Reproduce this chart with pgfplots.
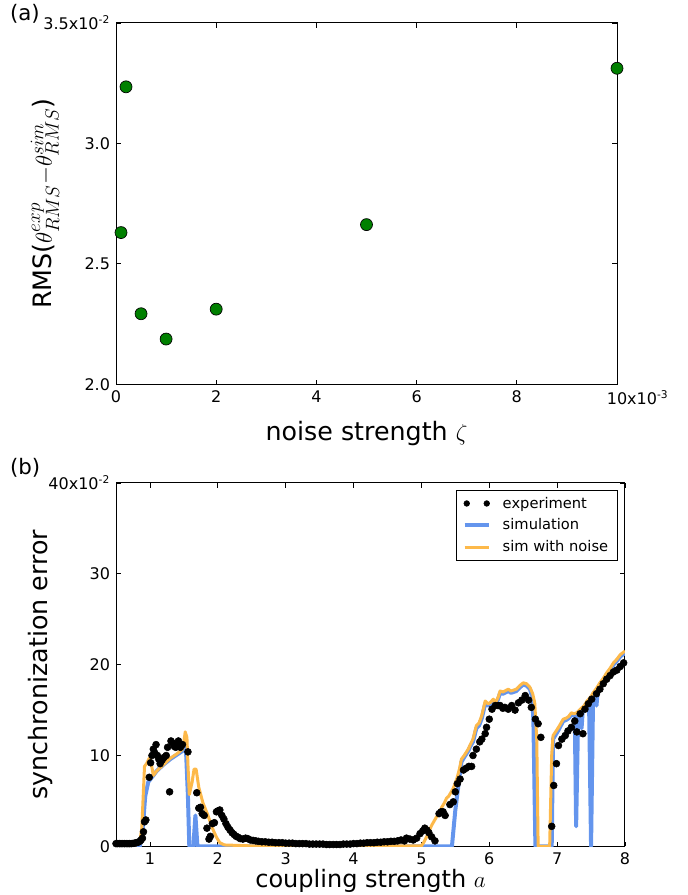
\documentclass[border=0pt]{standalone}
\usepackage{pgfplots}
\pgfplotsset{compat=1.18}
\usepackage{fontspec}
\setmainfont{DejaVu Sans}
\definecolor{simblue}{HTML}{6495ED}
\definecolor{noiseorange}{HTML}{FDB94A}
\definecolor{mgreen}{HTML}{008000}

\pgfplotstableread{
a v
0.500 0.30
0.525 0.30
0.550 0.30
0.575 0.30
0.600 0.30
0.625 0.30
0.650 0.30
0.675 0.30
0.700 0.30
0.725 0.30
0.750 0.32
0.775 0.35
0.800 0.40
0.825 0.45
0.850 0.55
0.870 0.70
0.890 0.90
0.905 1.60
0.920 2.70
0.940 2.90
0.990 7.60
1.010 9.20
1.030 10.0
1.050 10.7
1.070 10.3
1.090 11.2
1.110 10.0
1.130 9.6
1.150 9.1
1.180 9.5
1.210 9.8
1.240 10.0
1.260 10.9
1.290 6.0
1.310 11.6
1.330 11.4
1.360 11.0
1.380 10.9
1.400 11.3
1.420 11.6
1.450 10.9
1.480 11.2
1.560 10.4
1.690 5.9
1.720 4.2
1.745 4.3
1.770 3.6
1.800 3.4
1.840 2.0
1.870 0.8
1.890 1.1
1.920 2.5
1.950 2.6
1.980 3.8
2.000 3.9
2.030 4.0
2.060 3.4
2.090 3.0
2.120 2.5
2.150 2.1
2.180 1.8
2.210 1.5
2.240 1.3
2.270 1.1
2.300 1.0
2.330 0.85
2.370 0.8
2.410 0.9
2.440 0.85
2.480 0.7
2.520 0.65
2.560 0.6
2.600 0.55
2.650 0.5
2.700 0.5
2.750 0.45
2.800 0.45
2.850 0.4
2.900 0.4
2.950 0.4
3.000 0.35
3.050 0.35
3.100 0.35
3.150 0.3
3.200 0.3
3.250 0.3
3.300 0.3
3.350 0.25
3.400 0.25
3.450 0.25
3.500 0.25
3.550 0.25
3.600 0.2
3.650 0.2
3.700 0.2
3.750 0.2
3.800 0.2
3.850 0.25
3.900 0.25
3.950 0.25
4.000 0.3
4.050 0.3
4.100 0.35
4.150 0.35
4.200 0.4
4.250 0.4
4.300 0.4
4.350 0.45
4.400 0.45
4.450 0.5
4.500 0.5
4.550 0.55
4.600 0.55
4.650 0.6
4.700 0.7
4.750 0.6
4.780 0.9
4.830 0.8
4.880 0.7
4.930 0.9
4.980 1.4
5.020 1.7
5.050 2.0
5.080 1.8
5.110 1.5
5.150 1.05
5.200 0.6
5.260 3.6
5.290 3.8
5.320 3.8
5.350 3.4
5.420 4.6
5.470 4.9
5.500 6.0
5.530 6.9
5.570 7.4
5.620 8.4
5.660 8.6
5.700 8.8
5.740 8.8
5.760 10.0
5.810 10.7
5.860 11.5
5.890 11.8
5.940 12.4
5.960 13.1
6.000 14.0
6.040 15.1
6.090 15.5
6.130 15.5
6.160 15.5
6.200 15.2
6.230 15.3
6.280 15.1
6.330 15.5
6.380 15.0
6.430 15.8
6.480 16.1
6.530 16.6
6.580 16.1
6.620 15.3
6.680 14.0
6.720 13.5
6.760 12.0
6.920 2.2
6.950 6.7
6.990 9.1
7.020 11.1
7.070 11.8
7.120 12.2
7.160 12.7
7.210 13.1
7.260 13.8
7.290 12.6
7.340 14.6
7.380 12.4
7.410 15.1
7.460 15.7
7.510 16.2
7.580 16.8
7.630 17.3
7.680 17.9
7.730 18.4
7.780 18.8
7.830 19.2
7.880 19.4
7.930 19.8
7.980 20.2
}\experiment

\pgfplotstableread{
a v
0.50 0.0
0.85 0.0
0.89 1.5
0.93 5.5
0.976 7.1
1.05 7.8
1.10 8.3
1.20 9.0
1.30 9.6
1.40 10.1
1.48 10.5
1.53 10.8
1.56 5.5
1.58 0.0
1.64 0.0
1.67 3.4
1.70 0.0
5.45 0.0
5.50 4.0
5.55 7.0
5.59 9.3
5.63 9.8
5.69 10.5
5.72 11.0
5.76 11.5
5.81 13.0
5.85 13.3
5.89 14.1
5.94 15.7
5.98 15.5
6.01 15.6
6.06 16.0
6.09 15.6
6.13 16.2
6.16 16.9
6.20 16.8
6.23 16.9
6.28 17.1
6.32 16.9
6.36 17.0
6.40 17.1
6.45 17.5
6.50 17.8
6.55 17.7
6.60 17.3
6.63 16.5
6.65 14.0
6.68 0.0
6.92 0.0
6.94 11.8
7.02 12.8
7.09 13.8
7.13 13.9
7.17 14.1
7.21 14.5
7.26 14.4
7.28 2.2
7.31 14.6
7.34 14.9
7.36 13.0
7.38 15.2
7.44 15.8
7.47 16.1
7.50 0.0
7.53 16.6
7.56 16.8
7.58 15.5
7.60 17.2
7.63 17.8
7.68 18.3
7.73 18.9
7.78 19.4
7.83 20.0
7.88 20.4
7.93 20.9
8.00 21.3
}\simulation

\pgfplotstableread{
a v
0.50 0.10
0.80 0.15
0.85 0.5
0.88 2.0
0.92 8.8
0.95 9.1
0.99 9.7
1.01 9.5
1.05 7.8
1.10 8.3
1.20 9.0
1.30 9.7
1.40 10.2
1.48 10.7
1.50 11.5
1.52 12.6
1.545 12.0
1.56 9.0
1.58 5.7
1.62 7.0
1.65 8.5
1.68 8.5
1.72 6.5
1.78 4.8
1.85 3.5
1.92 2.0
1.98 1.0
2.03 0.4
2.10 0.15
2.50 0.05
5.00 0.05
5.04 0.5
5.10 1.4
5.15 2.3
5.22 3.2
5.27 3.8
5.30 4.3
5.34 4.8
5.37 5.3
5.40 5.5
5.44 6.0
5.47 6.4
5.52 7.4
5.56 8.5
5.59 9.6
5.63 10.0
5.69 10.7
5.72 11.2
5.76 11.8
5.81 13.3
5.85 13.6
5.89 14.4
5.94 16.0
5.98 15.7
6.01 15.8
6.06 16.2
6.09 15.8
6.13 16.4
6.16 17.1
6.20 17.0
6.23 17.1
6.28 17.3
6.32 17.1
6.36 17.2
6.40 17.3
6.45 17.7
6.50 18.0
6.55 17.9
6.60 17.5
6.64 16.8
6.67 15.8
6.70 11.8
6.72 0.0
6.89 0.0
6.92 10.0
6.94 12.2
7.02 13.1
7.09 14.0
7.13 14.1
7.17 14.3
7.21 14.7
7.25 14.6
7.29 14.7
7.34 15.1
7.40 15.5
7.44 16.0
7.49 16.4
7.53 16.9
7.58 17.4
7.63 18.0
7.68 18.5
7.73 19.1
7.78 19.6
7.83 20.2
7.88 20.6
7.93 21.1
8.00 21.5
}\noisesim

\pgfplotstableread{
z r
0.1 2.630
0.2 3.235
0.5 2.293
1.0 2.188
2.0 2.312
5.0 2.663
10.0 3.312
}\rmsdata

\pgfplotsset{
  mystyle/.style={
    scale only axis,
    anchor=south west,
    tick align=inside,
    major tick length=3.5pt,
    axis line style={line width=0.75pt},
    every tick/.style={black, line width=0.6pt},
    tick label style={font=\fontsize{12}{14}\selectfont},
    label style={font=\fontsize{19}{22}\selectfont},
    xticklabel style={yshift=-1pt},
    yticklabel style={xshift=-1pt},
  }
}

\begin{document}
\begin{tikzpicture}
\useasboundingbox (0pt,0pt) rectangle (516pt,671.25pt);

\begin{axis}[mystyle,
  at={(87pt,383pt)},
  width=375.75pt, height=271pt,
  xmin=0, xmax=10, ymin=2, ymax=3.5,
  xtick={0,2,4,6,8,10},
  xticklabels={0,2,4,6,8,{\phantom{x10\textsuperscript{-3}}10x10\textsuperscript{-3}}},
  ytick={2,2.5,3,3.5},
  yticklabels={2.0,2.5,3.0,{3.5x10\textsuperscript{-2}}},
  xlabel={noise strength $\zeta$},
  ylabel={RMS($\theta^{exp}_{RMS}{-}\theta^{sim}_{RMS}$)},
  xlabel style={at={(axis description cs:0.5,-0.135)}, anchor=center},
  ylabel style={at={(axis description cs:-0.1417,0.5)}, anchor=center},
]
\addplot[only marks, mark=*, mark size=4.5pt,
  mark options={fill=mgreen, draw=black, line width=0.5pt}]
  table[x=z, y=r] {\rmsdata};
\end{axis}

\begin{axis}[mystyle,
  at={(87pt,36.5pt)},
  width=381.75pt, height=272.5pt,
  xmin=0.5, xmax=8, ymin=0, ymax=40,
  xtick={1,2,3,4,5,6,7,8},
  xticklabels={1,2,3,4,5,6,7,8},
  ytick={0,10,20,30,40},
  yticklabels={0,10,20,30,{40x10\textsuperscript{-2}}},
  xlabel={coupling strength $a$},
  ylabel={synchronization error},
  xlabel style={at={(axis description cs:0.5,-0.095)}, anchor=center, font=\fontsize{18}{21}\selectfont},
  ylabel style={at={(axis description cs:-0.149,0.5)}, anchor=center},
  legend cell align=left,
  legend style={at={(axis description cs:0.986,0.981)}, anchor=north east,
    draw=black, line width=0.5pt, font=\fontsize{11}{13}\selectfont,
    row sep=2.5pt, inner xsep=5pt, inner ysep=3pt},
]
\addplot[only marks, mark=*, mark size=2.6pt, black,
  legend image code/.code={\fill[black] (1.5pt,0pt) circle (2.1pt); \fill[black] (16.5pt,0pt) circle (2.1pt); \path (25pt,0pt);}]
  table[x=a, y=v] {\experiment};
\addlegendentry{experiment}
\addplot[simblue, line width=3pt, line join=round,
  legend image code/.code={\draw[simblue, line width=3pt] (0pt,0pt) -- (18pt,0pt); \path (25pt,0pt);}]
  table[x=a, y=v] {\simulation};
\addlegendentry{simulation}
\addplot[noiseorange, line width=2.25pt, line join=round,
  legend image code/.code={\draw[noiseorange, line width=2.25pt] (0pt,0pt) -- (18pt,0pt); \path (25pt,0pt);}]
  table[x=a, y=v] {\noisesim};
\addlegendentry{sim with noise}
\end{axis}

\node[font=\fontsize{16}{19}\selectfont, anchor=west] at (4pt,660.75pt) {(a)};
\node[font=\fontsize{16}{19}\selectfont, anchor=west] at (4pt,320.25pt) {(b)};
\end{tikzpicture}
\end{document}
